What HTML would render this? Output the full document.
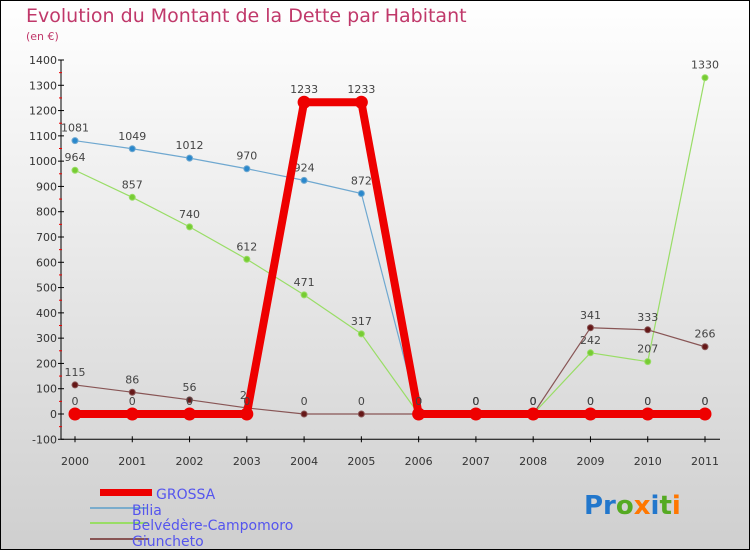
<!DOCTYPE html>
<html><head><meta charset="utf-8"><style>
html,body{margin:0;padding:0;}
body{width:750px;height:550px;overflow:hidden;font-family:"DejaVu Sans","Liberation Sans",sans-serif;}
svg text{font-family:"DejaVu Sans","Liberation Sans",sans-serif;}
</style></head><body>
<svg id="chart" width="750" height="550" xmlns="http://www.w3.org/2000/svg">
<defs><linearGradient id="bg" x1="0" y1="0" x2="0" y2="1"><stop offset="0" stop-color="#ffffff"/><stop offset="1" stop-color="#cfcfcf"/></linearGradient></defs>
<rect x="0.5" y="0.5" width="749" height="549" fill="url(#bg)" stroke="#000"/>
<text x="26" y="22" font-size="19" fill="#c0386a">Evolution du Montant de la Dette par Habitant</text>
<text x="26" y="40" font-size="11" fill="#c0386a">(en €)</text>
<g id="axes"></g><g id="series"></g>
<g>
<rect x="100" y="489" width="52" height="7" fill="#ee0000"/>
<text x="156" y="499" font-size="14" fill="#5555ee">GROSSA</text>
<rect x="90" y="507" width="58" height="2" fill="#7aaccc"/>
<text x="132" y="515" font-size="14" fill="#5555ee">Bilia</text>
<rect x="90" y="522" width="58" height="2" fill="#99dd66"/>
<text x="132" y="530" font-size="14" fill="#5555ee">Belvédère-Campomoro</text>
<rect x="90" y="538" width="58" height="2" fill="#885555"/>
<text x="132" y="546" font-size="14" fill="#5555ee">Giuncheto</text>
</g>
<text x="584" y="514" font-size="26" font-weight="bold"><tspan fill="#2277cc">Pr</tspan><tspan fill="#55aa22">o</tspan><tspan fill="#ff7700">x</tspan><tspan fill="#2277cc">i</tspan><tspan fill="#55aa22">t</tspan><tspan fill="#ff7700">i</tspan></text>
</svg>
<script>
const years=[2000,2001,2002,2003,2004,2005,2006,2007,2008,2009,2010,2011];
const yTicks=[-100,0,100,200,300,400,500,600,700,800,900,1000,1100,1200,1300,1400];
const grossa=[0,0,0,0,1233,1233,0,0,0,0,0,0];
const bilia=[1081,1049,1012,970,924,872,0,0,0,0,0,0];
const belvedere=[964,857,740,612,471,317,0,0,0,242,207,1330];
const giuncheto=[115,86,56,24,0,0,0,0,0,341,333,266];
const NS="http://www.w3.org/2000/svg";
function X(i){return 75+i*(630/11);}
function Y(v){return 414-v*(354/1400);}
function mk(t,a,p){const e=document.createElementNS(NS,t);for(const k in a)e.setAttribute(k,a[k]);p.appendChild(e);return e;}
const ax=document.getElementById('axes');
let l=mk('line',{x1:61,y1:Y(1400),x2:61,y2:Y(-100),stroke:'#000'},ax);


l=mk('line',{x1:61,y1:Y(-100),x2:720,y2:Y(-100),stroke:'#000'},ax);


yTicks.forEach(v=>{
 mk('line',{x1:58,y1:Y(v),x2:64,y2:Y(v),stroke:'#000'},ax);
 if(v<1400)mk('line',{x1:59,y1:Y(v+50),x2:62,y2:Y(v+50),stroke:'#e00'},ax);
 const t=mk('text',{x:57,y:Y(v)+4,'font-size':11,fill:'#333','text-anchor':'end'},ax);
 t.textContent=v;
 
 
});
years.forEach((yr,i)=>{
 mk('line',{x1:X(i),y1:Y(-100)-3,x2:X(i),y2:Y(-100)+3,stroke:'#000'},ax);
 const t=mk('text',{x:X(i),y:465,'font-size':11,fill:'#333','text-anchor':'middle'},ax);
 t.textContent=yr;
 
 
});
const sg=document.getElementById('series');
function draw(data,name,color,w,r,ptFill){
 const g=mk('g',{},sg);
 
 
 mk('polyline',{points:data.map((v,i)=>X(i)+','+Y(v)).join(' '),fill:'none',stroke:color,'stroke-width':w,'stroke-linejoin':'round'},g);
 data.forEach((v,i)=>{
  const c=mk('circle',{cx:X(i),cy:Y(v),r:r,fill:ptFill,stroke:color,'stroke-width':1},g);
  
  
  const t=mk('text',{x:X(i),y:Y(v)-9,'font-size':11,fill:'#444','text-anchor':'middle'},g);
  t.textContent=v;
  
  
 });
}
draw(bilia,'bilia','#6fa8d0',1.2,3,'#2a88cc');
draw(belvedere,'belvedere','#99dd66',1.2,3,'#77cc33');
draw(giuncheto,'giuncheto','#885555',1.2,3,'#661818');
draw(grossa,'grossa','#ee0000',8,6,'#ee0000');
</script>
</body></html>
